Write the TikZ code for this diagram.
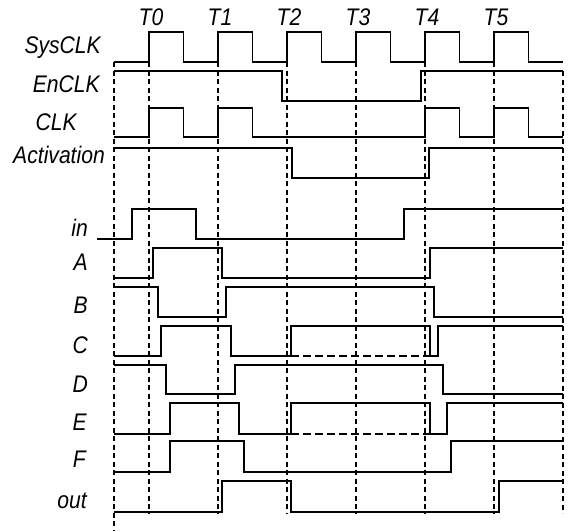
\documentclass[tikz,border=0pt]{standalone}
\usepackage{graphicx}
\usepackage{fontspec}
\setmainfont{Liberation Sans}
\newcommand\narrowtxt[1]{\scalebox{0.88}[1]{#1}}
\begin{document}
\begin{tikzpicture}[x=1pt,y=-1pt,
  sig/.style={line width=1.8pt,line join=miter},
  grid/.style={line width=1.2pt,dash pattern=on 5pt off 3.5pt},
  undef/.style={line width=1.8pt,dash pattern=on 8pt off 4pt},
  lbl/.style={font=\fontsize{24}{26}\selectfont\itshape,inner sep=0pt,anchor=base east},
  tlbl/.style={font=\fontsize{24}{26}\selectfont\itshape,inner sep=0pt,anchor=base}]
\path[use as bounding box] (0,0) rectangle (571,531);
% time markers
\foreach \n/\x in {0/149,1/218,2/287,3/356,4/425,5/494}{
  \node[tlbl] (t\n) at (\x+2,25.5) {\narrowtxt{T\n}};
}
% vertical dashed grid
\draw[grid] (114,62) -- (114,531);
\foreach \x in {149,218,287,356,425,494}{
  \draw[grid] (\x,62) -- (\x,513);
}
\draw[grid] (563,71) -- (563,513);
% labels
\node[lbl] (lsys) at (101,53) {\narrowtxt{SysCLK}};
\node[lbl] (len) at (100,92) {\narrowtxt{EnCLK}};
\node[lbl] (lclk) at (77,130) {\narrowtxt{CLK}};
\node[lbl] (lact) at (105,163) {\narrowtxt{Activation}};
\node[lbl] (lin) at (88,236) {\narrowtxt{in}};
\node[lbl] (la) at (88,270) {\narrowtxt{A}};
\node[lbl] (lb) at (88,313) {\narrowtxt{B}};
\node[lbl] (lc) at (88,353) {\narrowtxt{C}};
\node[lbl] (ld) at (88,392) {\narrowtxt{D}};
\node[lbl] (le) at (87,430) {\narrowtxt{E}};
\node[lbl] (lf) at (86,467) {\narrowtxt{F}};
\node[lbl] (lout) at (87,508) {\narrowtxt{out}};
% SysCLK
\draw[sig] (114,61.7) -| (149,31.7) -| (183.5,61.7) -| (218,31.7) -| (252.5,61.7)
  -| (287,31.7) -| (321.5,61.7) -| (356,31.7) -| (390.5,61.7) -| (425,31.7)
  -| (459.5,61.7) -| (494,31.7) -| (528.5,61.7) -- (563,61.7);
% EnCLK
\draw[sig] (114,70.7) -| (282.3,101) -| (420.7,70.7) -- (563,70.7);
% CLK
\draw[sig] (114,137.3) -| (149,107.7) -| (183.5,137.3) -| (218,107.7) -| (252.5,137.3)
  -| (425,107.7) -| (459.5,137.3) -| (494,107.7) -| (528.5,137.3) -- (563,137.3);
% Activation
\draw[sig] (114,147.7) -| (291.7,178.3) -| (429,147.7) -- (563,147.7);
% in
\draw[sig] (97,239.3) -| (131.7,209) -| (196.3,239.3) -| (403.7,209) -- (563,209);
% A
\draw[sig] (114,278.3) -| (152.7,248) -| (222.3,278.3) -| (430,248) -- (563,248);
% B
\draw[sig] (114,287) -| (157.7,317) -| (226,287) -| (434.3,317) -- (563,317);
% C
\draw[sig] (114,355.7) -| (161,326) -| (230.7,355.7) -| (291,326) -| (429.7,355.7)
  -| (438.3,326) -- (563,326);
\draw[undef] (291,355.7) -- (429.7,355.7);
% D
\draw[sig] (114,364.7) -| (165.7,394.3) -| (234.7,364.7) -| (442.7,394.3) -- (563,394.3);
% E
\draw[sig] (114,434) -| (170,403.3) -| (239.3,434) -| (291,403.3) -| (429.7,434)
  -| (447,403.3) -- (563,403.3);
\draw[undef] (291,434) -- (429.7,434);
% F
\draw[sig] (114,471.7) -| (170,441) -| (243.7,471.7) -| (451.3,441) -- (563,441);
% out
\draw[sig] (114,511.7) -| (222,481.3) -| (291.3,511.7) -| (499.3,481.3) -- (563,481.3);
\end{tikzpicture}
\end{document}
